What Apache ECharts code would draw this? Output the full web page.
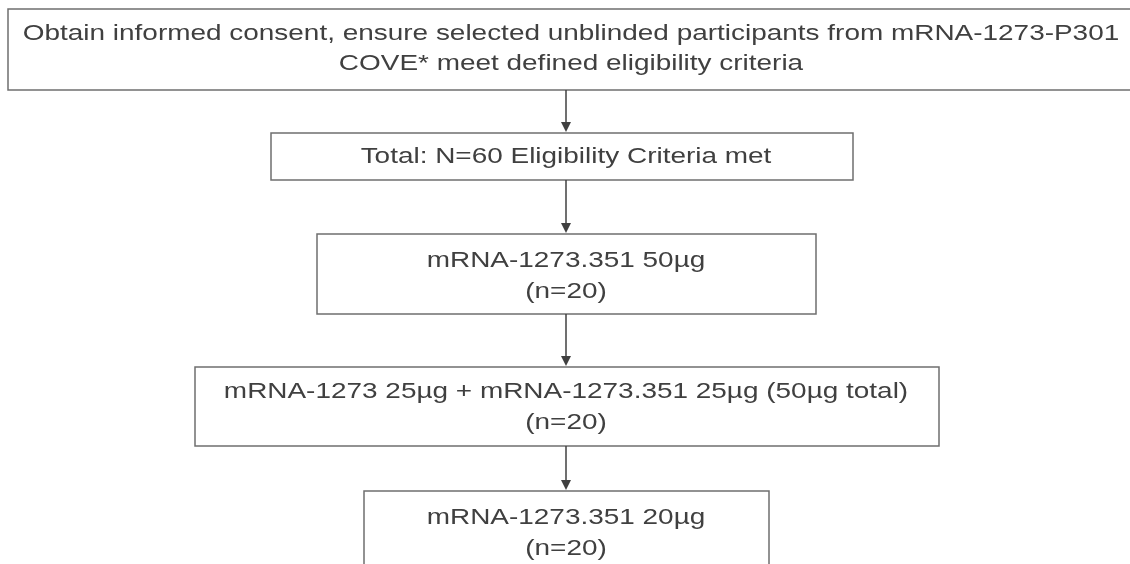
<!DOCTYPE html>
<html><head><meta charset="utf-8">
<script src="https://cdn.jsdelivr.net/npm/echarts@6/dist/echarts.min.js"></script>
<style>html,body{margin:0;padding:0;background:#fff}#c{width:1130px;height:564px}</style>
</head><body><div id="c"></div>
<script>
// Flow steps (text content)
var stepLines = [
  ["Obtain informed consent, ensure selected unblinded participants from mRNA-1273-P301", "COVE* meet defined eligibility criteria"],
  ["Total: N=60 Eligibility Criteria met"],
  ["mRNA-1273.351 50\u00b5g", "(n=20)"],
  ["mRNA-1273 25\u00b5g + mRNA-1273.351 25\u00b5g (50\u00b5g total)", "(n=20)"],
  ["mRNA-1273.351 20\u00b5g", "(n=20)"]
];
var stepIndex = [0, 1, 2, 3, 4];

// Layout (pixel space of the canvas, mapped via hidden axes)
var boxLayout = [
  [8, 9, 1136, 90],
  [271, 133, 853, 180],
  [317, 234, 816, 314],
  [195, 367, 939, 446],
  [364, 491, 769, 620]
];
var textCenterX = [571, 566, 566, 566, 566];
var textFirstY = [34.3, 157, 261, 392, 517.5];
var textGap = [29.5, 0, 31, 31, 31];
var arrowX = 566;
var textColor = '#404040';
var borderColor = '#6f6f6f';
var fontSize = 22;
var stretchX = 1.27;

var chart = echarts.init(document.getElementById('c'), null, {renderer: 'canvas'});
chart.setOption({
  animation: false,
  grid: {left: 0, right: 0, top: 0, bottom: 0},
  xAxis: {type: 'value', min: 0, max: 1130, show: false},
  yAxis: {type: 'value', min: 0, max: 564, inverse: true, show: false},
  series: [{
    type: 'custom',
    clip: false,
    data: stepIndex.map(function (i) { return [i]; }),
    renderItem: function (params, api) {
      var i = api.value(0);
      var b = boxLayout[i];
      var p1 = api.coord([b[0], b[1]]);
      var p2 = api.coord([b[2], b[3]]);
      var children = [{
        type: 'rect',
        shape: {x: p1[0], y: p1[1], width: p2[0] - p1[0], height: p2[1] - p1[1]},
        style: {fill: '#fff', stroke: borderColor, lineWidth: 1.5}
      }];
      var lines = stepLines[i];
      for (var k = 0; k < lines.length; k++) {
        var tp = api.coord([textCenterX[i], textFirstY[i] + k * textGap[i]]);
        children.push({
          type: 'text',
          x: tp[0], y: tp[1],
          scaleX: stretchX, scaleY: 1,
          style: {
            text: lines[k], x: 0, y: 0,
            fill: textColor, font: fontSize + 'px "Liberation Sans", Arial, sans-serif',
            align: 'center', verticalAlign: 'middle'
          }
        });
      }
      if (i > 0) {
        var prev = boxLayout[i - 1];
        var a1 = api.coord([arrowX, prev[3]]);
        var a2 = api.coord([arrowX, b[1]]);
        children.push({
          type: 'line',
          shape: {x1: a1[0], y1: a1[1], x2: a2[0], y2: a2[1] - 6},
          style: {stroke: '#404040', lineWidth: 1.5}
        });
        children.push({
          type: 'polygon',
          shape: {points: [[a2[0] - 5, a2[1] - 11], [a2[0] + 5, a2[1] - 11], [a2[0], a2[1] - 1]]},
          style: {fill: '#404040'}
        });
      }
      return {type: 'group', children: children};
    }
  }]
});
</script></body></html>
